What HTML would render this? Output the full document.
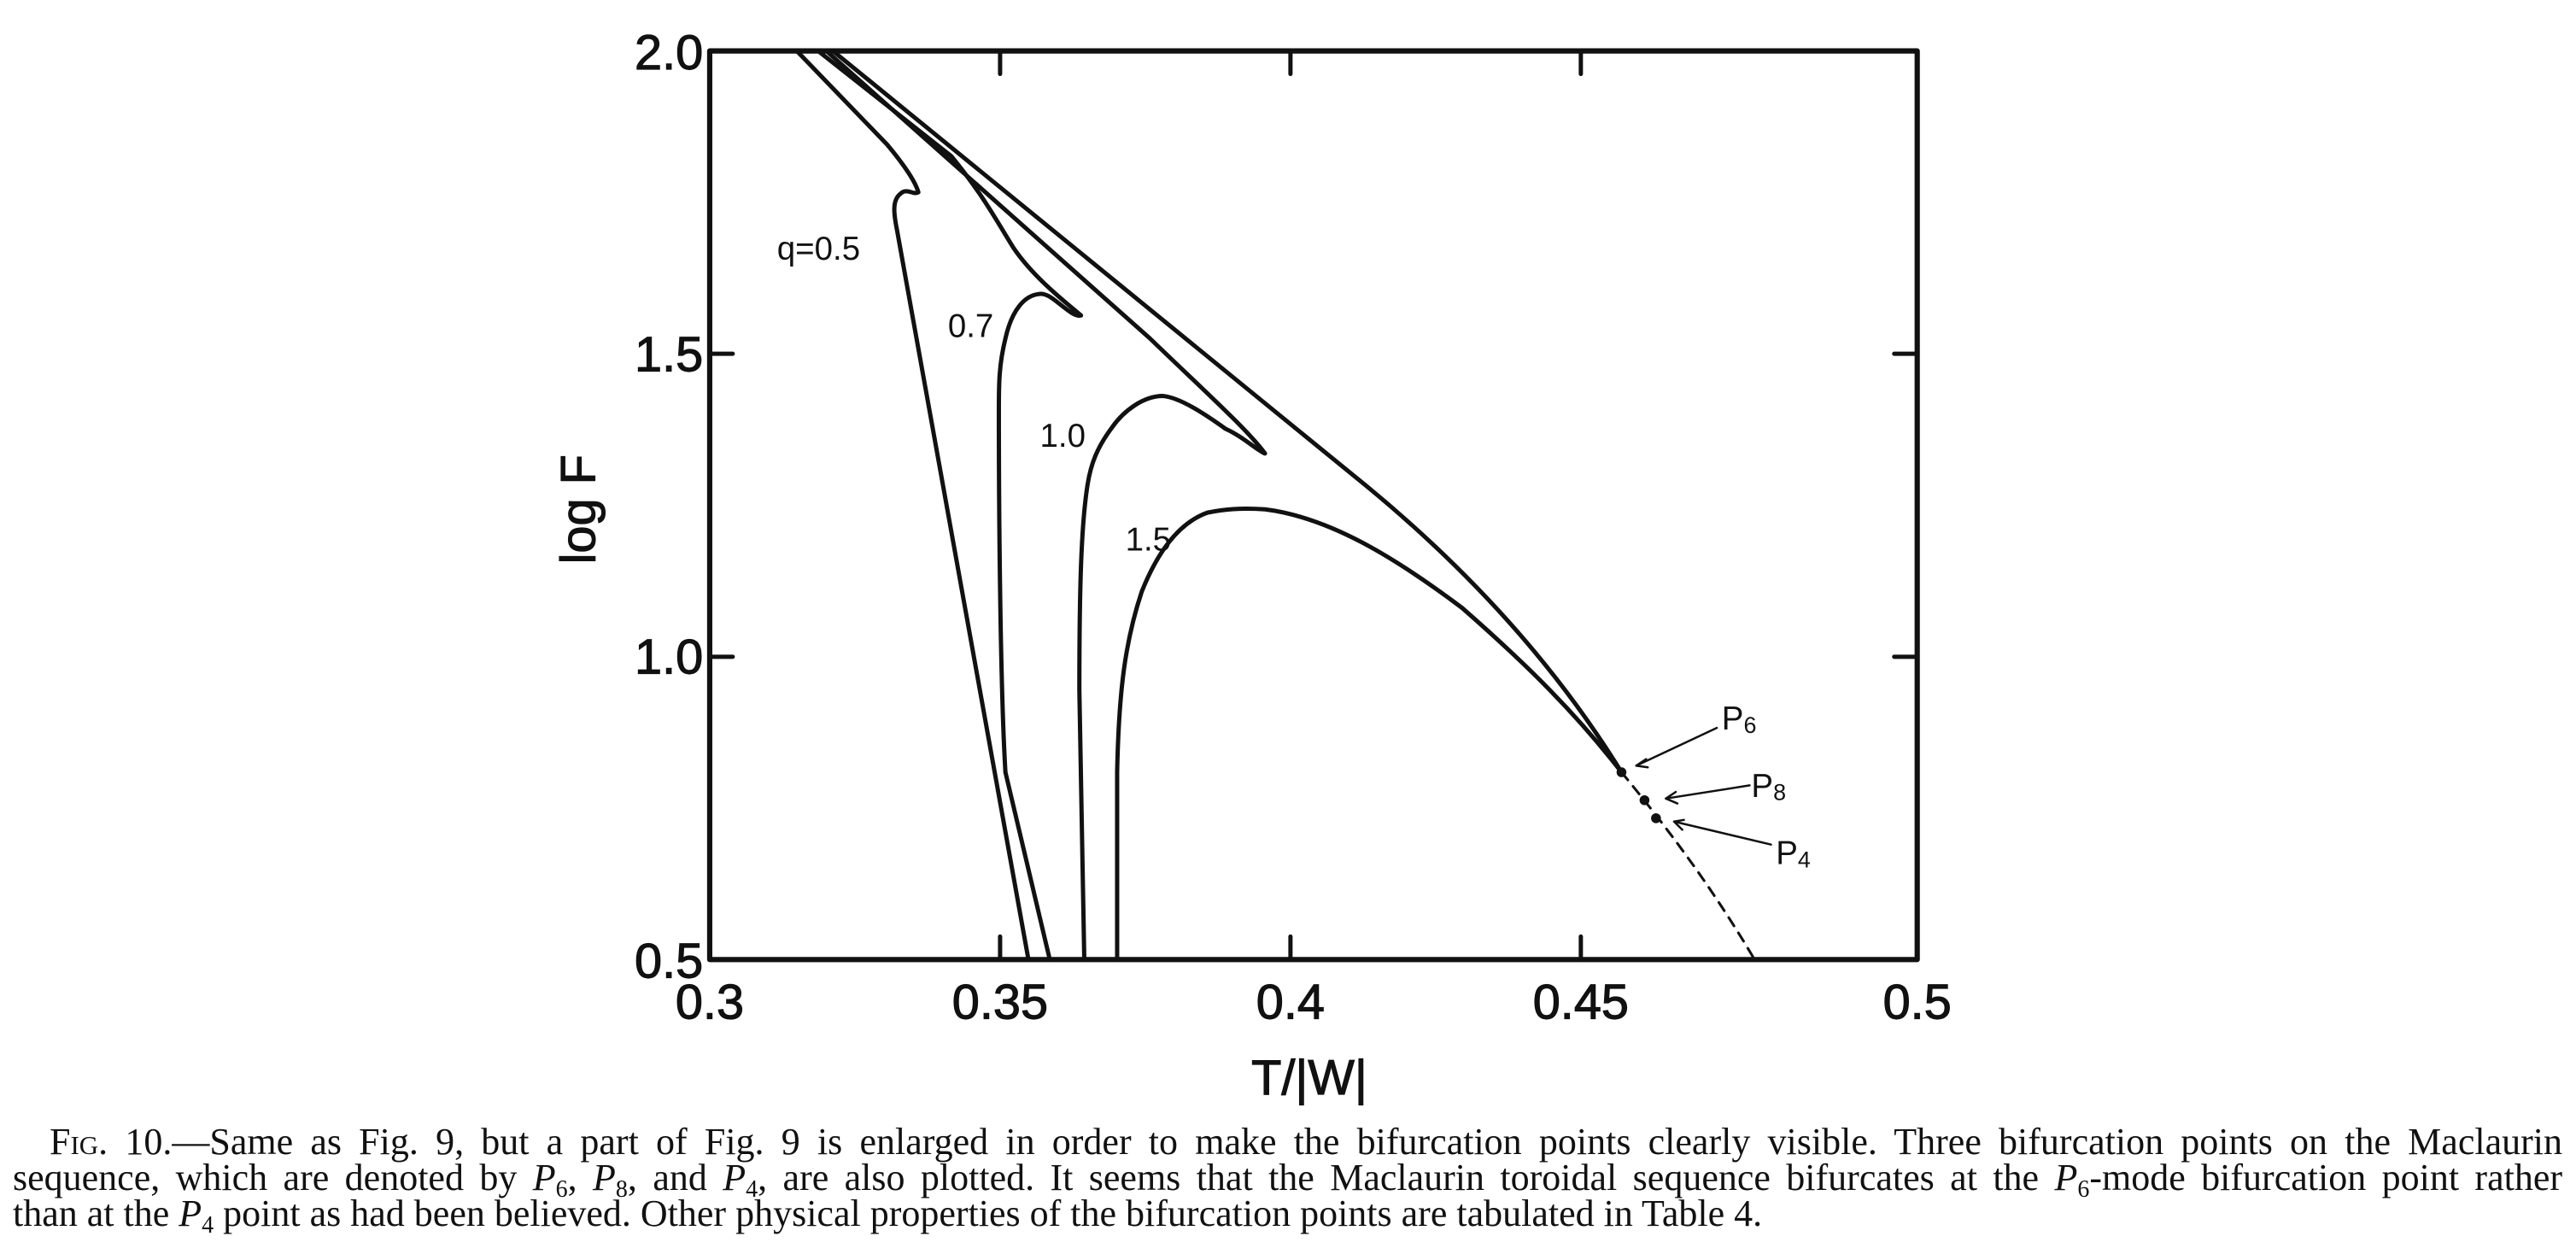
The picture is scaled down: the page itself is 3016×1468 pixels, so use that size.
<!DOCTYPE html>
<html><head><meta charset="utf-8"><style>
html,body{margin:0;padding:0;background:#fff;}
body{width:3016px;height:1468px;position:relative;overflow:hidden;}
svg{position:absolute;left:0;top:0;}
.cap{position:absolute;left:15px;width:2985px;font-family:"Liberation Serif",serif;font-size:44px;color:#111;text-align:justify;text-align-last:justify;white-space:nowrap;line-height:42px;}
.sc{font-variant:small-caps;}
sub{font-size:28px;vertical-align:-8px;line-height:0;}
</style></head><body>
<svg width="3016" height="1468" viewBox="0 0 1568 763.2">
<g fill="none" stroke="#111" stroke-width="2.6" stroke-linejoin="round" stroke-linecap="round">
<rect x="432" y="31" width="735" height="553" stroke-width="3.2"/>
<path d="M432 215.3h14M432 399.7h14M1167 215.3h-14M1167 399.7h-14M608.75 31v14M785.5 31v14M962.25 31v14M608.75 584v-14M785.5 584v-14M962.25 584v-14"/>
<path d="M485 31 L540 88 C550 100 557 110 559 117 C556 119 552 114 548 118 C543 122 544 130 546 140 L626 584"/>
<path d="M498 31 L579 95 C598 118 607 135 617 151 C630 170 650 185 658 192 C655 193 650 189 645 185 C640 181 636 178 632 179 C624 180 616 188 612 206 C608 222 608 234 608 250 C608 320 609 420 612 470 L639 584"/>
<path d="M503 31 L700 206 C730 235 760 262 770 276 C765 274 757 266 746 261 C732 251 718 242 708 241 C696 241 684 250 677 260 C668 272 664 282 662 295 C658 320 657 360 657 420 L660 584"/>
<path d="M507 31 L832 296 C900 352 950 410 987 470"/>
<path d="M680 584 L680 470 C681 420 685 390 695 360 C705 335 718 318 735 312 C745 310 755 309 770 310 C810 315 850 340 890 370 C930 405 960 435 987 470"/>
<path d="M987 470 C1020 510 1045 545 1068 584" stroke-width="1.6" stroke-dasharray="6 5"/>
<path d="M1045 443 L996 466 M1065 478 L1014 486 M1078 514 L1019 500" stroke-width="1.3"/>
<path d="M1002 462 L996 466 L1003 467 M1020 482 L1014 486 L1021 489 M1025 499 L1019 500 L1024 505" stroke-width="1.3"/>
</g>
<g fill="#111"><circle cx="987" cy="470" r="3"/><circle cx="1001" cy="487" r="3"/><circle cx="1008" cy="498" r="3"/></g>
<g font-family="Liberation Sans, sans-serif" fill="#111" font-size="30" stroke="#111" stroke-width="0.6">
<text x="428" y="42" text-anchor="end">2.0</text>
<text x="428" y="226" text-anchor="end">1.5</text>
<text x="428" y="410" text-anchor="end">1.0</text>
<text x="428" y="595" text-anchor="end">0.5</text>
<text x="432" y="620" text-anchor="middle">0.3</text>
<text x="608.75" y="620" text-anchor="middle">0.35</text>
<text x="785.5" y="620" text-anchor="middle">0.4</text>
<text x="962.25" y="620" text-anchor="middle">0.45</text>
<text x="1167" y="620" text-anchor="middle">0.5</text>
<text x="797" y="666" text-anchor="middle">T/|W|</text>
<text transform="translate(362,310) rotate(-90)" text-anchor="middle">log F</text>
</g>
<g font-family="Liberation Sans, sans-serif" fill="#111" font-size="20">
<text x="473" y="158">q=0.5</text>
<text x="577" y="205">0.7</text>
<text x="633" y="272">1.0</text>
<text x="685" y="335">1.5</text>
<text x="1048" y="444">P<tspan font-size="14" dy="2">6</tspan></text>
<text x="1066" y="485">P<tspan font-size="14" dy="2">8</tspan></text>
<text x="1081" y="526">P<tspan font-size="14" dy="2">4</tspan></text>
</g>
</svg>
<div class="cap" style="top:1316px;left:58px;width:2942px;"><span class="sc">Fig.</span> 10.—Same as Fig. 9, but a part of Fig. 9 is enlarged in order to make the bifurcation points clearly visible. Three bifurcation points on the Maclaurin</div>
<div class="cap" style="top:1358px;">sequence, which are denoted by <i>P</i><sub>6</sub>, <i>P</i><sub>8</sub>, and <i>P</i><sub>4</sub>, are also plotted. It seems that the Maclaurin toroidal sequence bifurcates at the <i>P</i><sub>6</sub>-mode bifurcation point rather</div>
<div class="cap" style="top:1400px;text-align:left;text-align-last:left;">than at the <i>P</i><sub>4</sub> point as had been believed. Other physical properties of the bifurcation points are tabulated in Table 4.</div>
</body></html>
